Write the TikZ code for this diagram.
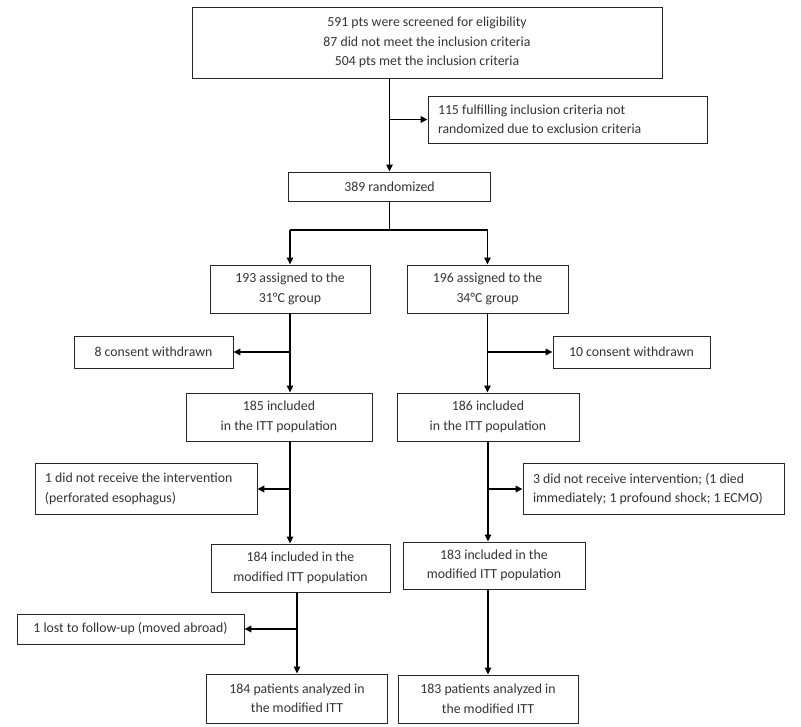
\documentclass[tikz,border=0pt]{standalone}
\usepackage{fontspec}
\setmainfont{Carlito}
\usepackage{tikz}
\usetikzlibrary{arrows.meta}

\begin{document}
\begin{tikzpicture}[x=1pt,y=-1pt,
  box/.style={draw=black!85,line width=0.9pt,text=black!80,inner sep=2pt,align=center,
    font=\fontsize{13.8}{19.5}\selectfont},
  lbox/.style={box,align=flush left,inner xsep=10pt},
  trunk/.style={line width=1.3pt},
  side/.style={line width=1.9pt},
  flow/.style={-{Triangle[length=7pt,width=6.5pt]}}]
\useasboundingbox (0,0) rectangle (801,727);
\node[box,minimum width=470,minimum height=71] (screen) at (427,42.5)
  {591 pts were screened for eligibility\\87 did not meet the inclusion criteria\\504 pts met the inclusion criteria};
\node[lbox,text width=259pt,minimum height=47] (excl) at (567.5,119.5)
  {115 fulfilling inclusion criteria not\\randomized due to exclusion criteria};
\node[box,minimum width=202,minimum height=29] (rand) at (389.5,186.5) {389 randomized};
\node[box,minimum width=160,minimum height=48] (a31) at (290,289) {193 assigned to the\\31°C group};
\node[box,minimum width=161,minimum height=48] (a34) at (487.5,289) {196 assigned to the\\34°C group};
\node[box,minimum width=159,minimum height=32] (cw31) at (153.5,352) {8 consent withdrawn};
\node[box,minimum width=157,minimum height=32] (cw34) at (631.5,352) {10 consent withdrawn};
\node[box,minimum width=186,minimum height=48] (itt31) at (279,417) {185 included\\in the ITT population};
\node[box,minimum width=182,minimum height=48] (itt34) at (488,417) {186 included\\in the ITT population};
\node[lbox,text width=202pt,minimum height=51] (ni31) at (146,489)
  {1 did not receive the intervention\\(perforated esophagus)};
\node[lbox,text width=241pt,minimum height=51] (ni34) at (653.5,489)
  {3 did not receive intervention; (1 died\\immediately; 1 profound shock; 1 ECMO)};
\node[box,minimum width=179,minimum height=48] (m31) at (300.5,568) {184 included in the\\modified ITT population};
\node[box,minimum width=182,minimum height=47] (m34) at (494,565.5) {183 included in the\\modified ITT population};
\node[box,minimum width=227,minimum height=30] (lost) at (130.5,629) {1 lost to follow-up (moved abroad)};
\node[box,minimum width=181,minimum height=49] (pa31) at (297,698.5) {184 patients analyzed in\\the modified ITT};
\node[box,minimum width=180,minimum height=48] (pa34) at (488,699) {183 patients analyzed in\\the modified ITT};
\coordinate (split) at (389.5,230);
\draw[trunk,flow] (screen.south -| rand.north) -- (rand.north);
\draw[side,flow] (rand.north |- excl.west) -- (excl.west);
\draw[trunk] (rand.south) -- (split);
\draw[trunk] (split -| a31.north) -- (split -| a34.north);
\draw[trunk,flow] (split -| a31.north) -- (a31.north);
\draw[trunk,flow] (split -| a34.north) -- (a34.north);
\draw[trunk,flow] (a31.south) -- (a31.south |- itt31.north);
\draw[side,flow] (a31.south |- cw31.east) -- (cw31.east);
\draw[trunk,flow] (a34.south) -- (a34.south |- itt34.north);
\draw[side,flow] (a34.south |- cw34.west) -- (cw34.west);
\draw[trunk,flow] (a31.south |- itt31.south) -- (a31.south |- m31.north);
\draw[side,flow] (a31.south |- ni31.east) -- (ni31.east);
\draw[trunk,flow] (itt34.south) -- (itt34.south |- m34.north);
\draw[side,flow] (itt34.south |- ni34.west) -- (ni34.west);
\draw[trunk,flow] (m31.south -| pa31.north) -- (pa31.north);
\draw[side,flow] (pa31.north |- lost.east) -- (lost.east);
\draw[trunk,flow] (m34.south -| pa34.north) -- (pa34.north);
\end{tikzpicture}
\end{document}
